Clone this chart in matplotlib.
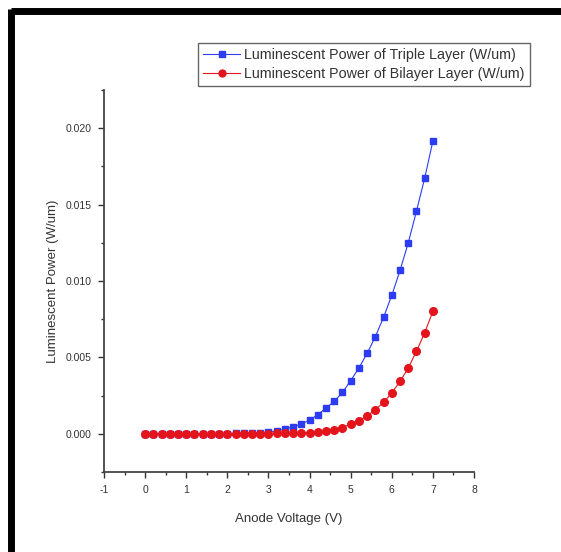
import numpy as np
import matplotlib.pyplot as plt
from matplotlib.lines import Line2D

plt.rcParams['font.family'] = ['Liberation Sans', 'DejaVu Sans']
plt.rcParams['axes.unicode_minus'] = False

# Data
voltage = np.round(np.arange(0, 7.01, 0.2), 1)
triple_layer = [0.0, 0.0, 0.0, 0.0, 0.0, 0.0, 0.0, 0.00001, 0.00001, 0.00002,
                0.00002, 0.00003, 0.00004, 0.00006, 0.00008, 0.00012, 0.0002, 0.00031,
                0.00046, 0.00064, 0.0009, 0.00125, 0.00169, 0.00212, 0.00271, 0.00348,
                0.00431, 0.00527, 0.00636, 0.00763, 0.00907, 0.01069, 0.0125, 0.01458,
                0.01674, 0.01917]
bilayer = [0.0, 0.0, 0.0, 0.0, 0.0, 0.0, 0.0, 0.0, 0.0, 0.0,
           0.0, 0.00001, 0.00001, 0.00001, 0.00002, 0.00002, 0.00003, 0.00004,
           0.00005, 0.00006, 0.00008, 0.00012, 0.00018, 0.00028, 0.00041, 0.00064,
           0.00085, 0.00118, 0.00159, 0.00205, 0.00269, 0.00343, 0.00431, 0.0054,
           0.00662, 0.00802]

fig = plt.figure(figsize=(5.61, 5.52), dpi=100)
ax = fig.add_axes([0.1854, 0.1449, 0.6596, 0.692])

ax.plot(voltage, triple_layer, color='#2b3cf2', marker='s', markersize=5, linewidth=0.8,
        label='Luminescent Power of Triple Layer (W/um)')
ax.plot(voltage, bilayer, color='#e3141c', marker='o', markersize=5.5, linewidth=0.8,
        label='Luminescent Power of Bilayer Layer (W/um)')

ax.set_xlim(-1, 8)
ax.set_ylim(-0.0025, 0.0225)
ax.set_xticks(range(-1, 9))
ax.set_xticks(np.arange(-0.5, 8, 1), minor=True)
ax.set_yticks([0.0, 0.005, 0.010, 0.015, 0.020])
ax.set_yticks([-0.0025, 0.0025, 0.0075, 0.0125, 0.0175, 0.0225], minor=True)
ax.set_yticklabels(['0.000', '0.005', '0.010', '0.015', '0.020'])
ax.tick_params(which='major', direction='out', length=4, width=1, labelsize=7.5,
               colors='#333333', pad=5)
ax.tick_params(which='minor', direction='out', length=2, width=1, colors='#333333')

for side in ['top', 'right']:
    ax.spines[side].set_visible(False)
for side in ['left', 'bottom']:
    ax.spines[side].set_linewidth(1.3)
    ax.spines[side].set_color('#444444')

ax.set_xlabel('Anode Voltage (V)', fontsize=9.5, color='#333333', labelpad=13)
ax.set_ylabel('Luminescent Power (W/um)', fontsize=9.5, color='#333333', labelpad=5)

leg = ax.legend(loc='upper right', bbox_to_anchor=(530 / 561, 1 - 43 / 552),
                bbox_transform=fig.transFigure, borderaxespad=0, fontsize=10.3,
                fancybox=False, edgecolor='#666666', framealpha=1, borderpad=0.35,
                labelspacing=0.35, handlelength=2.6, handletextpad=0.3, markerscale=0.9)
leg.get_frame().set_linewidth(1.0)
for t in leg.get_texts():
    t.set_color('#333333')

# Thick black page frame (top and left edges)
fig.add_artist(Line2D([11 / 561, 1], [1 - 11 / 552, 1 - 11 / 552], color='black', linewidth=5,
                      transform=fig.transFigure, solid_capstyle='butt'))
fig.add_artist(Line2D([11 / 561, 11 / 561], [0, 1 - 8.5 / 552], color='black', linewidth=5,
                      transform=fig.transFigure, solid_capstyle='butt'))

fig.savefig('out.png', dpi=100)
